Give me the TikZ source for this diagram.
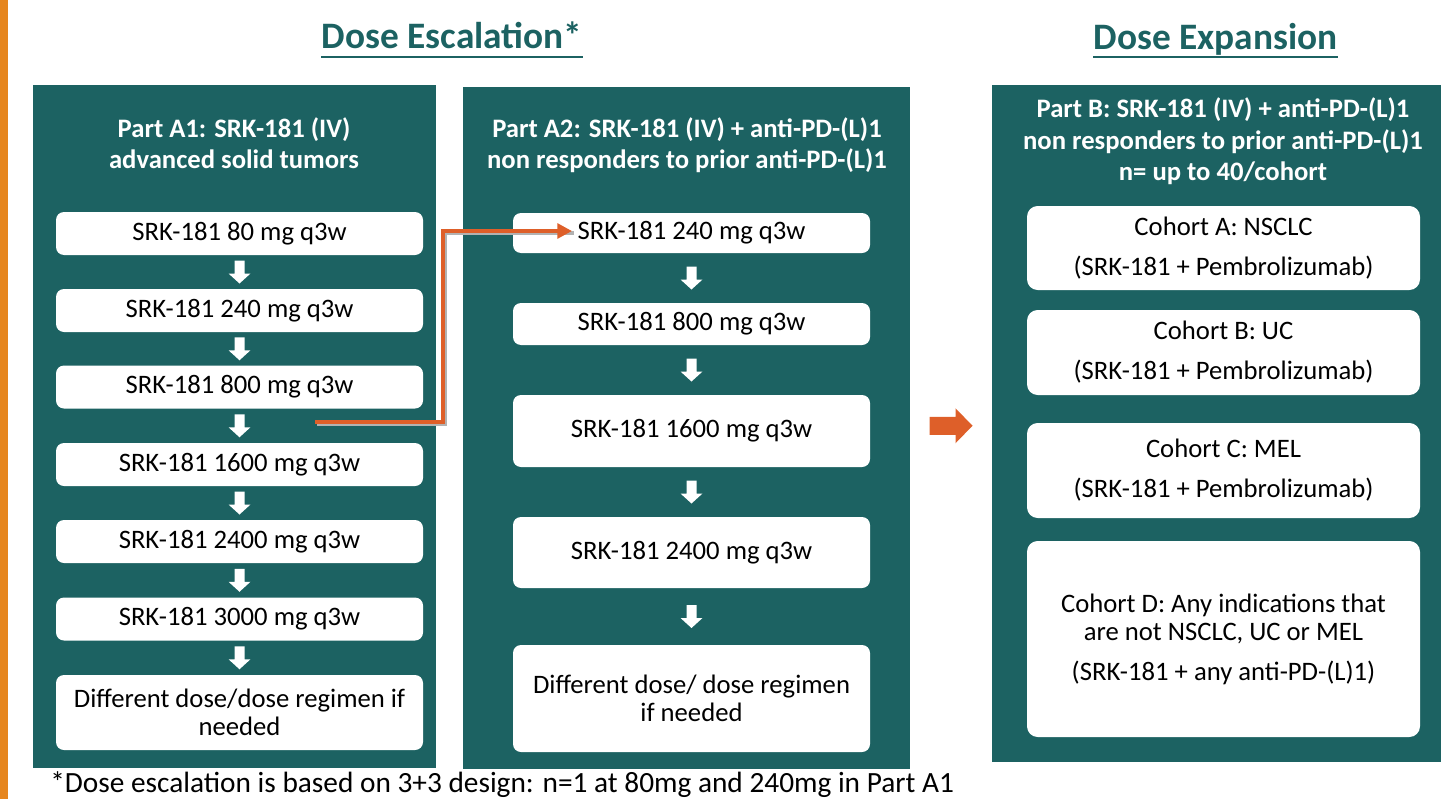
\documentclass[tikz,border=0pt]{standalone}
\usepackage{fontspec}
\setmainfont{Carlito}
\usetikzlibrary{positioning,arrows.meta,calc}
\definecolor{panelteal}{RGB}{28,98,98}
\definecolor{barorange}{RGB}{230,134,30}
\definecolor{linkorange}{RGB}{222,95,41}

\begin{document}
\begin{tikzpicture}[
  x=0.75pt, y=-0.75pt,
  every node/.style={inner sep=0pt},
  panel/.style={rectangle, fill=panelteal},
  head/.style={text=white, align=center, font=\fontsize{20}{23.5}\selectfont\bfseries},
  title/.style={text=panelteal, font=\fontsize{28}{32}\selectfont\bfseries},
  uline/.style={draw=panelteal, line width=1.5pt},
  dosebox/.style={fill=white, rounded corners=6pt, align=center, font=\fontsize{20}{21}\selectfont},
  abox/.style={dosebox, minimum width=275.25pt, minimum height=32.25pt},
  bbox/.style={dosebox, minimum width=267.75pt},
  cbox/.style={dosebox, rounded corners=8pt, minimum width=294.75pt},
  link/.style={draw=linkorange, line width=2.8pt, -{Triangle[length=11pt, width=11pt]}},
  downarrow/.pic={\fill[white] (-5,-11.5) -- (5,-11.5) -- (5,1.5) -- (11,1.5) -- (0,11.5) -- (-11,1.5) -- (-5,1.5) -- cycle;},
  bigarrow/.pic={\fill[linkorange] (-21.5,-9) -- (4.5,-9) -- (4.5,-17.5) -- (21.5,0) -- (4.5,17.5) -- (4.5,9) -- (-21.5,9) -- cycle;}
]
\useasboundingbox (0,0) rectangle (1441,799);
\fill[barorange] (0,0) rectangle (8,799);

\node[title, anchor=base] (esc) at (452, 49) {Dose Escalation*};
\node[title, anchor=base] (exp) at (1215.5, 50) {Dose Expansion};
\draw[uline] ([yshift=-6pt]esc.base west) -- ([yshift=-6pt]esc.base east);
\draw[uline] ([yshift=-5pt]exp.base west) -- ([yshift=-5pt]exp.base east);

\node[panel, minimum width=302.25pt, minimum height=512.25pt] (pa1) at (234.5, 426.5) {};
\node[panel, minimum width=335.25pt, minimum height=511.5pt]  (pa2) at (686.5, 428)   {};
\node[panel, minimum width=336.75pt, minimum height=507.75pt] (pb)  at (1216.5, 423.5) {};

\node[head] (ha1) at (234, 143)    {Part A1: SRK-181 (IV)\\advanced solid tumors};
\node[head] (ha2) at (687, 145)    {Part A2: SRK-181 (IV) + anti-PD-(L)1\\non responders to prior anti-PD-(L)1};
\node[head] (hb)  at (1223, 141.5) {Part B: SRK-181 (IV) + anti-PD-(L)1\\non responders to prior anti-PD-(L)1\\n= up to 40/cohort};

\node[abox] (x1) at (239.5, 233.5) {SRK-181 80 mg q3w};
\node[abox] (x2) at (239.5, 310.5) {SRK-181 240 mg q3w};
\node[abox] (x3) at (239.5, 387)   {SRK-181 800 mg q3w};
\node[abox] (x4) at (239.5, 464.5) {SRK-181 1600 mg q3w};
\node[abox] (x5) at (239.5, 541.5) {SRK-181 2400 mg q3w};
\node[abox] (x6) at (239.5, 619)   {SRK-181 3000 mg q3w};
\node[abox, minimum height=56.25pt] (x7) at (239.5, 712.5) {Different dose/dose regimen if\\needed};

\node[bbox, minimum height=30pt]    (y1) at (691.5, 233)   {SRK-181 240 mg q3w};
\node[bbox, minimum height=31.5pt]  (y2) at (691.5, 324)   {SRK-181 800 mg q3w};
\node[bbox, minimum height=54pt]    (y3) at (691.5, 431)   {SRK-181 1600 mg q3w};
\node[bbox, minimum height=53.25pt] (y4) at (691.5, 552.5) {SRK-181 2400 mg q3w};
\node[bbox, minimum height=80.25pt] (y5) at (691.5, 698.5) {Different dose/ dose regimen\\if needed};

\node[cbox, minimum height=63pt]    (ca) at (1223.5, 248)   {Cohort A: NSCLC\\[9pt](SRK-181 + Pembrolizumab)};
\node[cbox, minimum height=63.75pt] (cb) at (1223.5, 352.5) {Cohort B: UC\\[9pt](SRK-181 + Pembrolizumab)};
\node[cbox, minimum height=71.25pt] (cc) at (1223.5, 470.5) {Cohort C: MEL\\[9pt](SRK-181 + Pembrolizumab)};
\node[cbox, minimum height=147pt]   (cd) at (1223.5, 639)   {Cohort D: Any indications that\\are not NSCLC, UC or MEL\\[9pt](SRK-181 + any anti-PD-(L)1)};

\foreach \u/\v in {x1/x2, x2/x3, x3/x4, x4/x5, x5/x6, x6/x7, y1/y2, y2/y3, y3/y4, y4/y5}
  \pic at ($(\u.south)!0.5!(\v.north)$) {downarrow};

\coordinate (src)  at (315, 422);
\coordinate (bend) at (443, 231);
\coordinate (tip)  at (572, 231);
\draw[link, draw=black!30, transform canvas={shift={(1.5pt,-1.5pt)}}, -] (src) -| (bend) -- (tip);
\draw[link] (src) -| (bend) -- (tip);

\pic at ($(pa2.east)!0.5!(pb.west)$) {bigarrow};

\node[anchor=base west, font=\fontsize{22}{26}\selectfont] (note) at (50, 792) {*Dose escalation is based on 3+3 design: n=1 at 80mg and 240mg in Part A1};
\end{tikzpicture}
\end{document}
